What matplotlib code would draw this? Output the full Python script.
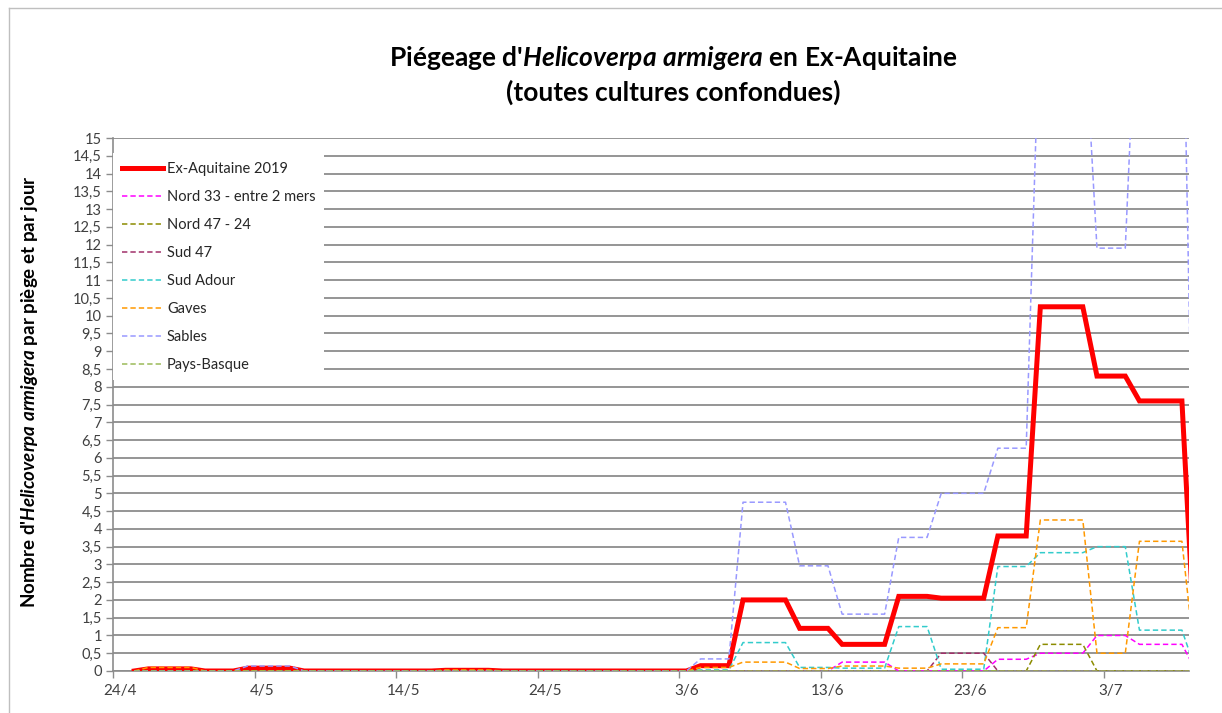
import numpy as np
import pandas as pd
import matplotlib
matplotlib.use("Agg")
import matplotlib.pyplot as plt
import matplotlib.dates as mdates
from matplotlib.ticker import FixedLocator, FuncFormatter, NullFormatter
from matplotlib.lines import Line2D

plt.rcParams['font.family'] = ['Lato', 'DejaVu Sans']
plt.rcParams['mathtext.fontset'] = 'custom'
plt.rcParams['mathtext.it'] = 'Lato:italic:bold'
plt.rcParams['mathtext.rm'] = 'Lato:bold'

# first day of each trapping period (Tuesday / Friday readings)
period_start = ["2019-04-25", "2019-04-26", "2019-04-30", "2019-05-03", "2019-05-07",
                "2019-05-10", "2019-05-14", "2019-05-17", "2019-05-21", "2019-05-24",
                "2019-05-28", "2019-05-31", "2019-06-04", "2019-06-07", "2019-06-11",
                "2019-06-14", "2019-06-18", "2019-06-21", "2019-06-25", "2019-06-28",
                "2019-07-02", "2019-07-05", "2019-07-09"]

ex_aquitaine = [0, 0.06, 0, 0.08, 0, 0, 0, 0.02, 0, 0, 0, 0,
                0.15, 2.0, 1.2, 0.75, 2.1, 2.05, 3.8, 10.25, 8.3, 7.6, 0]
nord33 = [0, 0, 0, 0, 0, 0, 0, 0, 0, 0, 0, 0,
          0, 0, 0, 0.25, 0, 0, 0.33, 0.5, 1.0, 0.75, 0]
nord47_24 = [0, 0, 0, 0, 0, 0, 0, 0, 0, 0, 0, 0,
             0, 0, 0, 0, 0, 0, 0, 0.75, 0, 0, 0]
sud47 = [0, 0, 0, 0, 0, 0, 0, 0, 0, 0, 0, 0,
         0, 0, 0, 0, 0, 0.5, 0, 0, 0, 0, 0]
sud_adour = [0, 0, 0, 0, 0, 0, 0, 0, 0, 0, 0, 0,
             0.03, 0.8, 0.1, 0.08, 1.25, 0.05, 2.94, 3.33, 3.5, 1.15, 0]
gaves = [0, 0.1, 0, 0, 0, 0, 0, 0.03, 0, 0, 0, 0,
         0.1, 0.25, 0.07, 0.14, 0.08, 0.2, 1.22, 4.25, 0.5, 3.65, 0]
sables = [0, 0, 0, 0.14, 0, 0, 0, 0, 0, 0, 0, 0,
          0.34, 4.75, 2.96, 1.6, 3.76, 5.0, 6.27, 19.1, 11.9, 21.0, 0]
pays_basque = [0] * 23

series = [
    ("Ex-Aquitaine 2019", ex_aquitaine, "#FF0000"),
    ("Nord 33 - entre 2 mers", nord33, "#FF00FF"),
    ("Nord 47 - 24", nord47_24, "#8C8C00"),
    ("Sud 47", sud47, "#A0306A"),
    ("Sud Adour", sud_adour, "#33CCCC"),
    ("Gaves", gaves, "#FF9900"),
    ("Sables", sables, "#9999FF"),
    ("Pays-Basque", pays_basque, "#9BBB59"),
]

tick_dates = ["2019-04-24", "2019-05-04", "2019-05-14", "2019-05-24",
              "2019-06-03", "2019-06-13", "2019-06-23", "2019-07-03"]
tick_labels = ["24/4", "4/5", "14/5", "24/5", "3/6", "13/6", "23/6", "3/7"]

# each period is a plateau from its first to its last day (points at noon)
starts = pd.to_datetime(period_start)
ends = list(starts[1:] - pd.Timedelta(days=1)) + [starts[-1]]
half = pd.Timedelta(hours=12)
xs = []
for s, e in zip(starts, ends):
    xs += [s + half, e + half]

fig = plt.figure(figsize=(12.22, 7.13), dpi=100)
ax = fig.add_axes([113 / 1222, 1 - 671 / 713, (1189 - 113) / 1222, (671 - 138) / 713])

for i, (name, vals, col) in enumerate(series):
    ys = np.repeat(vals, 2)
    if i == 0:
        ax.plot(xs, ys, color=col, lw=3.6, label=name, zorder=3, solid_joinstyle='miter')
    else:
        ax.plot(xs, ys, color=col, lw=1.1, ls=(0, (3.5, 2)), label=name, zorder=3 + i)

ax.set_ylim(0, 15)
ax.set_xlim(pd.Timestamp("2019-04-24"), pd.Timestamp("2019-07-09"))

yt = np.arange(0, 15.01, 0.5)
ax.set_yticks(yt)
ax.yaxis.set_major_formatter(FuncFormatter(lambda v, p: (f"{v:g}").replace(".", ",")))
ax.grid(axis='y', color='#8C8C8C', lw=1.3, zorder=0)
ax.set_axisbelow(True)

tpos = pd.to_datetime(tick_dates)
ax.xaxis.set_major_locator(FixedLocator(mdates.date2num(tpos)))
ax.xaxis.set_major_formatter(NullFormatter())
ax.xaxis.set_minor_locator(FixedLocator(mdates.date2num(tpos + half)))
ax.xaxis.set_minor_formatter(FuncFormatter(lambda v, p: tick_labels[p] if p is not None and p < len(tick_labels) else ""))
ax.tick_params(axis='x', which='major', length=5, color='#8C8C8C', width=1)
ax.tick_params(axis='x', which='minor', length=0, pad=9, labelsize=11, labelcolor='#404040')
ax.tick_params(axis='y', length=5, color='#8C8C8C', width=1, labelsize=10.5, labelcolor='#404040', pad=3)

for sp in ['top', 'right']:
    ax.spines[sp].set_visible(False)
for sp in ['left', 'bottom']:
    ax.spines[sp].set_color('#8C8C8C')
    ax.spines[sp].set_linewidth(1.2)

ax.set_ylabel(r"Nombre d'$Helicoverpa\ armigera$ par piège et par jour",
              fontsize=13.5, fontweight='bold', color='black')
ax.yaxis.set_label_coords(-0.068, 0.525)

leg = ax.legend(loc='upper left', bbox_to_anchor=(0.0, 0.972), borderaxespad=0,
                frameon=True, fancybox=False, edgecolor='none', facecolor='white',
                framealpha=1, fontsize=10.5, handlelength=2.8, handletextpad=0.3,
                labelspacing=0.96, borderpad=0.6)
for t in leg.get_texts():
    t.set_color('#262626')

fig.text(673 / 1222, 1 - 58 / 713, r"Piégeage d'$Helicoverpa\ armigera$ en Ex-Aquitaine",
         ha='center', va='center', fontsize=19, fontweight='bold')
fig.text(673 / 1222, 1 - 92 / 713, "(toutes cultures confondues)",
         ha='center', va='center', fontsize=19, fontweight='bold')

# chart area border
fig.add_artist(Line2D([9 / 1222, 9 / 1222], [0, 1 - 8 / 713], color='#BFBFBF', lw=1))
fig.add_artist(Line2D([9 / 1222, 1], [1 - 8 / 713, 1 - 8 / 713], color='#BFBFBF', lw=1))

fig.savefig("out.png", dpi=100)
